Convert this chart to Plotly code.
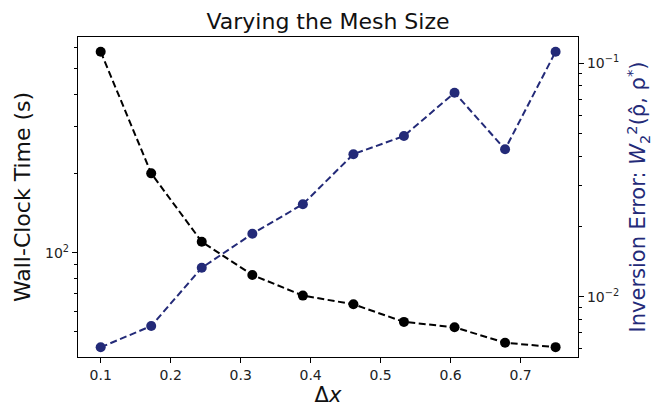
import plotly.graph_objects as go

dx = [0.1, 0.1722, 0.2444, 0.3167, 0.3889, 0.4611, 0.5333, 0.6056, 0.6778, 0.75]
wall_time = [579, 200, 110, 82.3, 68.7, 63.7, 54.6, 52.1, 45.5, 43.8]
inv_error = [0.00607, 0.00749, 0.0133, 0.0186, 0.0249, 0.0408, 0.0488, 0.0748, 0.0428, 0.1121]

x_ticks = [0.1, 0.2, 0.3, 0.4, 0.5, 0.6, 0.7]
x_ticktext = ["0.1", "0.2", "0.3", "0.4", "0.5", "0.6", "0.7"]
y1_major = [100]
y1_major_text = ["10<sup>2</sup>"]
y1_minor = [50, 60, 70, 80, 90, 200, 300, 400, 500, 600]
y2_major = [0.01, 0.1]
y2_major_text = ["10<sup>\u22122</sup>", "10<sup>\u22121</sup>"]
y2_minor = [0.006, 0.007, 0.008, 0.009, 0.02, 0.03, 0.04, 0.05, 0.06, 0.07, 0.08, 0.09]

navy = "#232a78"
font = "DejaVu Sans"

fig = go.Figure()
fig.add_trace(go.Scatter(
    x=dx, y=wall_time, mode="lines+markers", yaxis="y",
    line=dict(color="black", width=2, dash="7px,3.5px"),
    marker=dict(color="black", size=10), showlegend=False))
fig.add_trace(go.Scatter(
    x=dx, y=inv_error, mode="lines+markers", yaxis="y2",
    line=dict(color=navy, width=2, dash="7px,3.5px"),
    marker=dict(color=navy, size=10), showlegend=False))

fig.update_layout(
    width=658, height=414,
    margin=dict(l=78, r=80, t=37, b=57),
    paper_bgcolor="white", plot_bgcolor="white",
    font=dict(family=font, size=14, color="#222222"),
    title=dict(text="Varying the Mesh Size", x=0.5, xanchor="center",
               y=1 - 21 / 414, yanchor="middle", xref="paper",
               font=dict(size=22, color="#111111")),
    xaxis=dict(
        range=[0.0676, 0.782], tickvals=x_ticks, ticktext=x_ticktext,
        ticks="outside", ticklen=5, tickwidth=1.1, tickcolor="black",
        showline=True, linecolor="black", linewidth=1.2, mirror=True,
        showgrid=False, zeroline=False,
        title=dict(text="\u0394<i>x</i>", font=dict(size=21, color="#111111"), standoff=4),
    ),
    yaxis=dict(
        type="log", range=[1.604, 2.8186],
        tickvals=y1_major, ticktext=y1_major_text,
        ticks="outside", ticklen=5, tickwidth=1.1, tickcolor="black",
        minor=dict(tickvals=y1_minor, ticks="outside", ticklen=3, tickwidth=0.9, tickcolor="black", showgrid=False),
        showline=True, linecolor="black", linewidth=1.2,
        showgrid=False, zeroline=False,
        title=dict(text="Wall-Clock Time (s)", font=dict(size=22, color="#111111"), standoff=8),
    ),
    yaxis2=dict(
        type="log", range=[-2.2584, -0.8873], overlaying="y", side="right",
        tickvals=y2_major, ticktext=y2_major_text,
        ticks="outside", ticklen=5, tickwidth=1.1, tickcolor="black",
        minor=dict(tickvals=y2_minor, ticks="outside", ticklen=3, tickwidth=0.9, tickcolor="black", showgrid=False),
        showline=True, linecolor="black", linewidth=1.2,
        showgrid=False, zeroline=False,
        title=dict(text="Inversion Error: <i>W</i><sub>2</sub><sup>2</sup>(\u03c1\u0302, \u03c1<sup>*</sup>)",
                   font=dict(size=21, color=navy), standoff=12),
    ),
)

fig.write_html("out.html")
